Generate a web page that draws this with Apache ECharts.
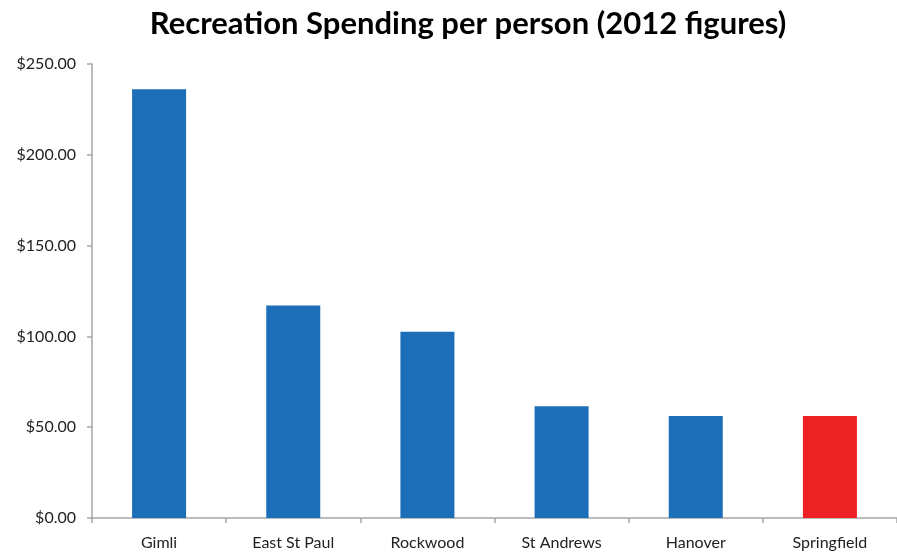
<!DOCTYPE html>
<html>
<head>
<meta charset="utf-8">
<script src="https://cdn.jsdelivr.net/npm/echarts@6/dist/echarts.min.js"></script>
<style>
  html, body { margin: 0; padding: 0; background: #fff; }
  #chart { width: 897px; height: 552px; }
</style>
</head>
<body>
<div id="chart"></div>
<script>
// data
const categories = ['Gimli', 'East St Paul', 'Rockwood', 'St Andrews', 'Hanover', 'Springfield']
const spending = [236.1, 117.0, 102.5, 61.5, 56.2, 56.2]
const highlight = 'Springfield'

const BLUE = '#1B6EB7'
const RED = '#EE2224'

const chart = echarts.init(document.getElementById('chart'))

const option = {
    animation: false,
    title: {
        text: 'Recreation Spending per person (2012 figures)',
        left: 463,
        textAlign: 'center',
        top: 3,
        textStyle: {
            fontFamily: 'Lato',
            fontWeight: 'bold',
            fontSize: 31,
            color: '#000'
        }
    },
    grid: {
        left: 92,
        right: -6,
        top: 64,
        bottom: 34
    },
    xAxis: {
        type: 'category',
        data: categories,
        axisLine: {lineStyle: {color: '#a6a6a6', width: 1.5}},
        axisTick: {show: true, length: 5, lineStyle: {color: '#a6a6a6', width: 1.5}},
        axisLabel: {
            margin: 17,
            fontFamily: 'Lato',
            fontSize: 16,
            color: '#222'
        }
    },
    yAxis: {
        type: 'value',
        min: 0,
        max: 250,
        interval: 50,
        splitLine: {show: false},
        axisLine: {show: true, lineStyle: {color: '#a6a6a6', width: 1.5}},
        axisTick: {show: true, length: 5, lineStyle: {color: '#a6a6a6', width: 1.5}},
        axisLabel: {
            margin: 16,
            fontFamily: 'Lato',
            fontSize: 16,
            color: '#222',
            formatter: (v) => '$' + v.toFixed(2)
        }
    },
    series: [{
        type: 'bar',
        barWidth: 54,
        data: spending.map((v, i) => ({
            value: v,
            itemStyle: {color: categories[i] === highlight ? RED : BLUE}
        }))
    }]
}

chart.setOption(option)
</script>
</body>
</html>
